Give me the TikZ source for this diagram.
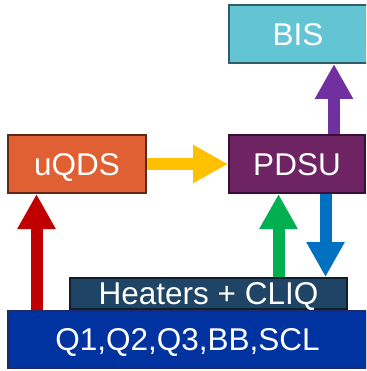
\documentclass[tikz,border=0pt]{standalone}
\usepackage{fontspec}
\setmainfont{Liberation Sans}
\usetikzlibrary{arrows.meta}
\definecolor{bisfill}{HTML}{63C5D3}
\definecolor{bisdraw}{HTML}{2F5F66}
\definecolor{uqfill}{HTML}{E06033}
\definecolor{uqdraw}{HTML}{5E2A18}
\definecolor{pdfill}{HTML}{6E2362}
\definecolor{pddraw}{HTML}{3B0F35}
\definecolor{htfill}{HTML}{1F4466}
\definecolor{htdraw}{HTML}{0E1E2E}
\definecolor{qfill}{HTML}{0033A0}
\definecolor{qdraw}{HTML}{1B2B6B}
\definecolor{ayellow}{HTML}{FFC000}
\definecolor{ared}{HTML}{C00000}
\definecolor{agreen}{HTML}{00B050}
\definecolor{ablue}{HTML}{0070C0}
\definecolor{apurple}{HTML}{7030A0}
\begin{document}
\begin{tikzpicture}[x=1pt,y=-1pt,
  box/.style={draw, line width=2pt, inner sep=0pt, text=white,
    font=\fontsize{31.5}{36}\selectfont, text height=22.5pt, text depth=0pt, anchor=center},
  blk/.style={line width=12pt, -{Triangle[width=36pt,length=35pt]}}]
\useasboundingbox (0,0) rectangle (366,371);
\clip (0,0) rectangle (366,371);
\node[box, fill=bisfill, draw=bisdraw, minimum width=150pt, minimum height=58pt] (bis) at (304,34) {\hspace*{-12pt}BIS};
\node[box, fill=pdfill, draw=pddraw, minimum width=136pt, minimum height=58pt] (pdsu) at (297,164) {PDSU};
\node[box, fill=uqfill, draw=uqdraw, minimum width=138pt, minimum height=58pt] (uqds) at (77,164) {uQDS};
\node[box, fill=qfill, draw=qdraw, minimum width=359pt, minimum height=57pt] (q) at (187.5,339.5) {Q1,Q2,Q3,BB,SCL};
\node[box, fill=htfill, draw=htdraw, minimum width=277pt, minimum height=31pt] (ht) at (208.5,293.5) {Heaters + CLIQ};
\coordinate (rx) at (36.5,0);
\coordinate (gx) at (278.5,0);
\coordinate (bx) at (325.5,0);
\coordinate (px) at (334,0);
\draw[blk, ayellow] (uqds.east) -- (pdsu.west);
\draw[blk, ared] (q.north -| rx) -- (uqds.south -| rx);
\draw[blk, agreen] (ht.north -| gx) -- (pdsu.south -| gx);
\draw[blk, ablue] (pdsu.south -| bx) -- (ht.north -| bx);
\draw[blk, apurple] (pdsu.north -| px) -- (bis.south -| px);
\end{tikzpicture}
\end{document}
